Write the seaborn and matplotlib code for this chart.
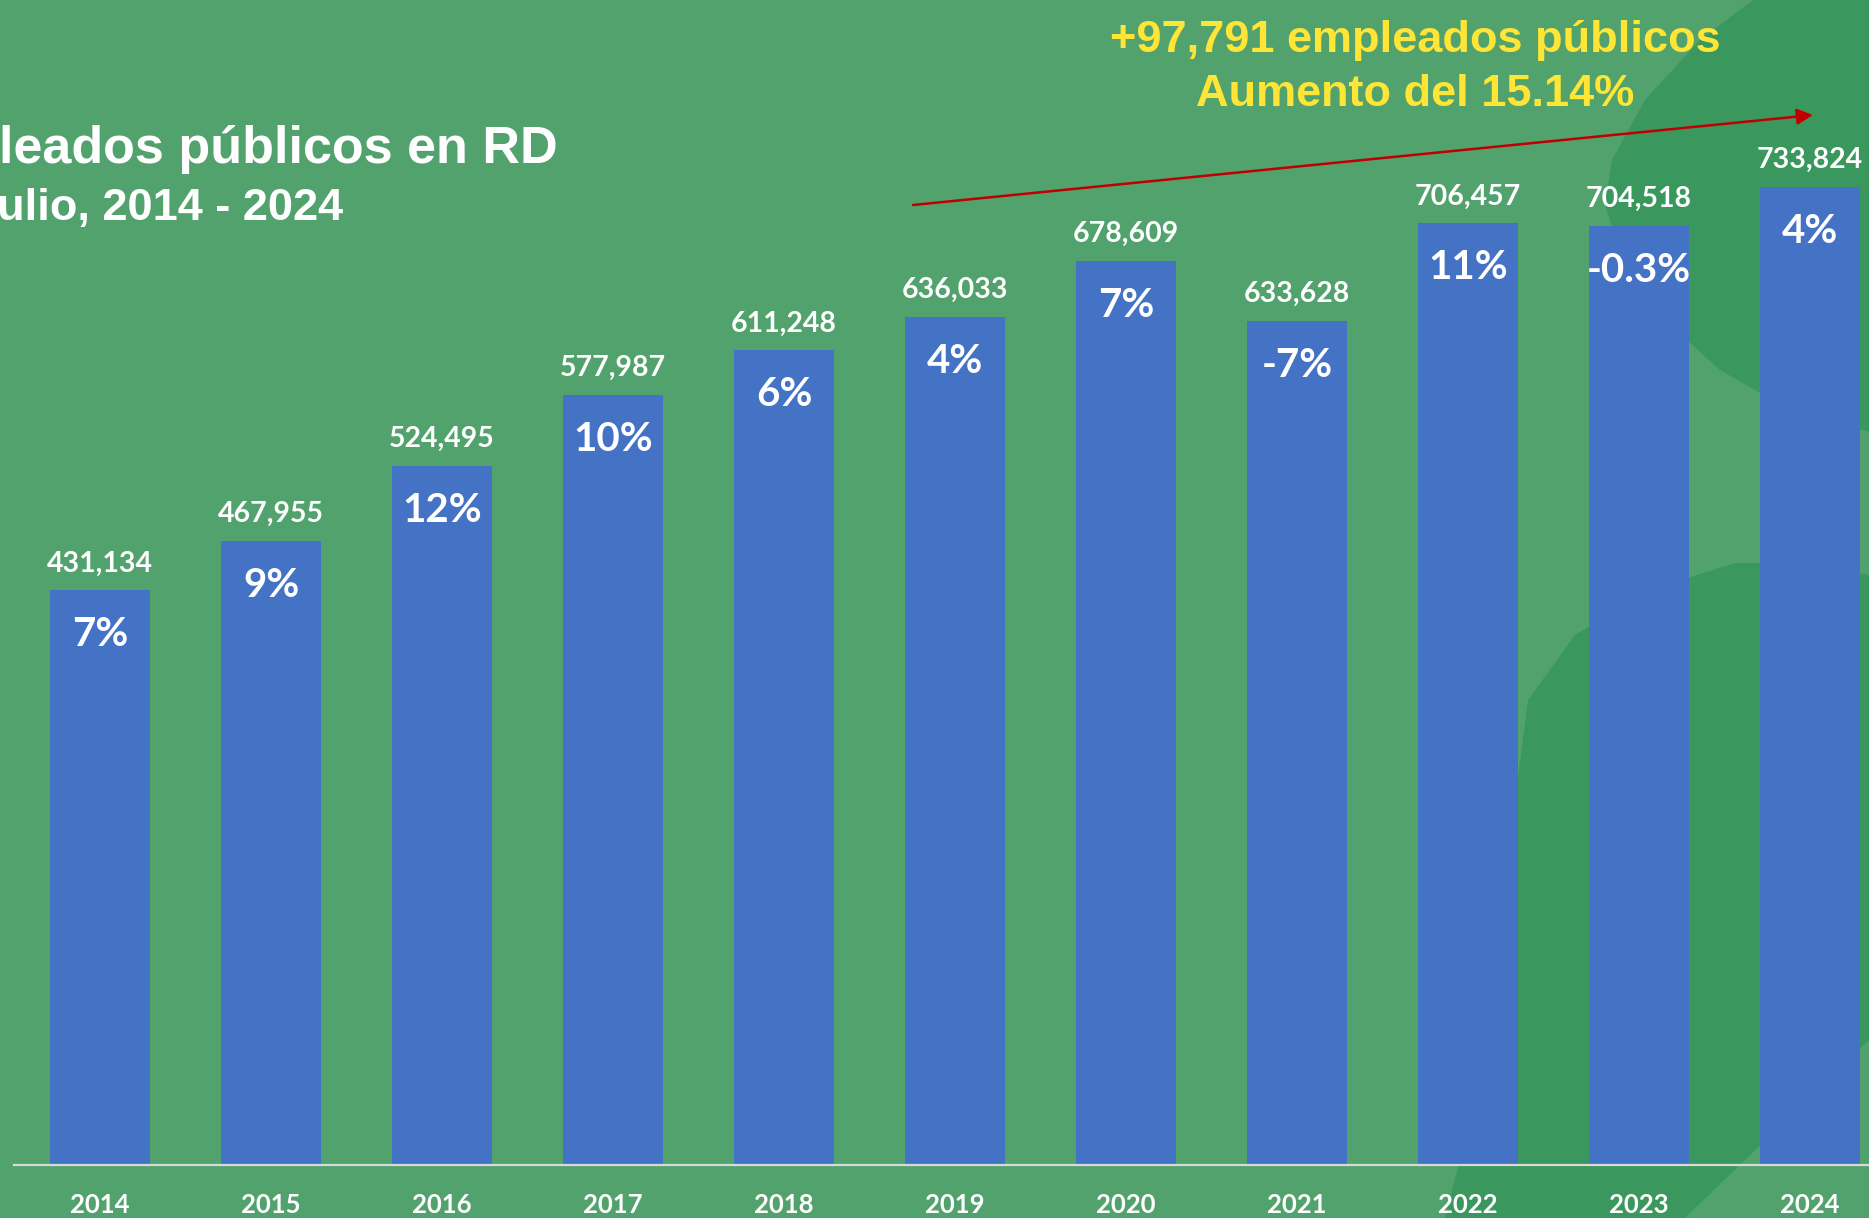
import matplotlib
matplotlib.use('Agg')
import matplotlib.pyplot as plt
import seaborn as sns
from matplotlib import font_manager as fm
from matplotlib.patches import Polygon

# datos
years = ['2014', '2015', '2016', '2017', '2018', '2019', '2020', '2021', '2022', '2023', '2024']
empleados = [431134, 467955, 524495, 577987, 611248, 636033, 678609, 633628, 706457, 704518, 733824]
variacion = ['7%', '9%', '12%', '10%', '6%', '4%', '7%', '-7%', '11%', '-0.3%', '4%']

titulo = 'Empleados públicos en RD'
subtitulo = 'Julio, 2014 - 2024'
nota1 = '+97,791 empleados públicos'
nota2 = 'Aumento del 15.14%'

VERDE = '#52A26E'
VERDE_OSCURO = '#3A985E'
AZUL = '#4472C4'
AMARILLO = '#FFE535'

W, H = 1869, 1218

names = {f.name for f in fm.fontManager.ttflist}
lfont = 'Lato' if 'Lato' in names else 'DejaVu Sans'

sns.set_style('white')
fig = plt.figure(figsize=(W / 100, H / 100), dpi=100, facecolor=VERDE)


def px(pts):
    return [(x / W, 1 - y / H) for x, y in pts]


# formas decorativas del fondo
arriba = [(1753, 0), (1700, 40), (1645, 100), (1612, 160), (1605, 205), (1625, 265),
          (1665, 320), (1720, 370), (1790, 410), (1869, 432), (1869, 0)]
abajo = [(1869, 575), (1800, 563), (1735, 563), (1650, 590), (1575, 635), (1528, 700),
         (1515, 800), (1505, 950), (1475, 1100), (1445, 1218), (1685, 1218), (1869, 1040)]
for pts in (arriba, abajo):
    fig.add_artist(Polygon(px(pts), closed=True, transform=fig.transFigure,
                           fc=VERDE_OSCURO, ec='none', zorder=-1))

ax = fig.add_axes([14 / W, 53 / H, 1 - 14 / W, 1 - 53 / H])
ax.set_facecolor('none')
sns.barplot(x=years, y=empleados, color=AZUL, saturation=1, width=0.585,
            linewidth=0, edgecolor='none', ax=ax)
ax.set_xlim(-0.503, 10.345)
ax.set_ylim(0, 874150)

for i, (v, p) in enumerate(zip(empleados, variacion)):
    ax.annotate(f'{v:,}', (i, v), xytext=(0, 19), textcoords='offset pixels',
                ha='center', va='baseline', color='white', fontsize=20.5,
                fontweight='bold', family=lfont, annotation_clip=False)
    ax.annotate(p, (i, v), xytext=(0, -56), textcoords='offset pixels',
                ha='center', va='baseline', color='white', fontsize=29,
                fontweight='bold', family=lfont)

for s in ['top', 'left', 'right']:
    ax.spines[s].set_visible(False)
ax.spines['bottom'].set_color('#D9D9D9')
ax.spines['bottom'].set_linewidth(1.6)
ax.set_yticks([])
ax.set_xlabel('')
ax.set_ylabel('')
ax.tick_params(axis='x', length=0, pad=34.5, labelsize=18.5, labelcolor='white')
for lab in ax.get_xticklabels():
    lab.set_fontweight('bold')
    lab.set_family(lfont)
    lab.set_va('baseline')

# titulo (cortado a la izquierda como en el original)
fig.text(558 / W, 1 - 163 / H, titulo, ha='right', va='baseline', color='white',
         fontsize=37.5, fontweight='bold', family='Liberation Sans')
fig.text(343 / W, 1 - 220 / H, subtitulo, ha='right', va='baseline', color='white',
         fontsize=32.5, fontweight='bold', family='Liberation Sans')

# nota amarilla y flecha
fig.text(1415 / W, 1 - 52 / H, nota1, ha='center', va='baseline', color=AMARILLO,
         fontsize=32.5, fontweight='bold', family='Liberation Sans')
fig.text(1415 / W, 1 - 106 / H, nota2, ha='center', va='baseline', color=AMARILLO,
         fontsize=32.5, fontweight='bold', family='Liberation Sans')
ax.annotate('', xy=(1813 / W, 1 - 115 / H), xytext=(913 / W, 1 - 205 / H),
            xycoords='figure fraction', textcoords='figure fraction',
            arrowprops=dict(arrowstyle='-|>', color='#C00000', lw=1.8,
                            mutation_scale=24, shrinkA=0, shrinkB=0))

fig.savefig('out.png', dpi=100, facecolor=VERDE)
